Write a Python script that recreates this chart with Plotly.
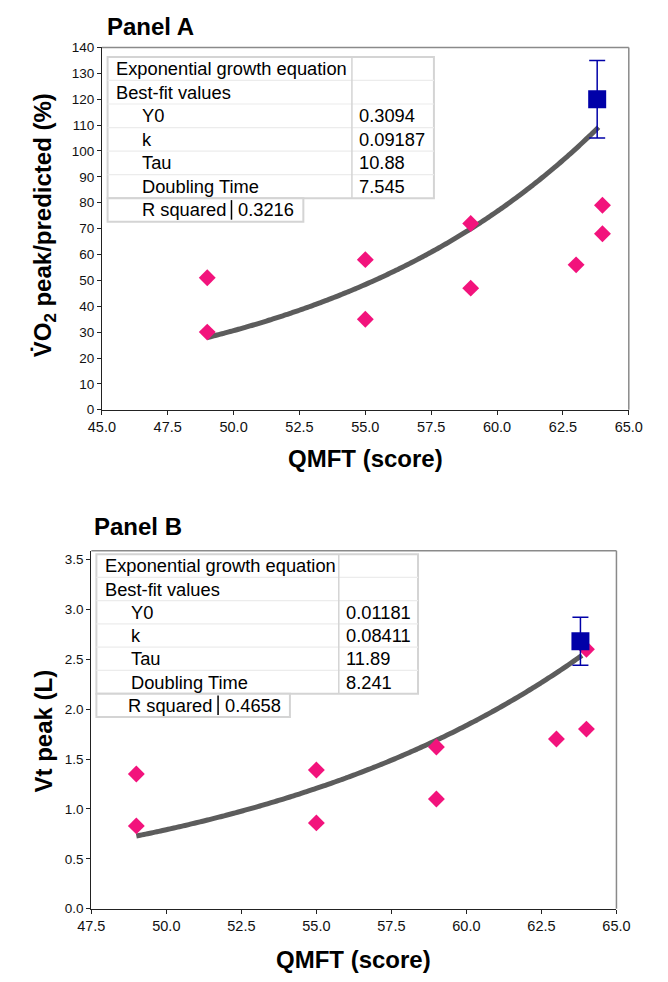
import math
import plotly.graph_objects as go

W, H = 668, 982

# ---------------- data ----------------
qmft_a = [49, 49, 55, 55, 59, 59, 63, 64, 64]
vo2_a = [51, 30, 58, 35, 72, 47, 56, 79, 68]
mean_x_a = [63.8]
mean_y_a = [120]
err_a = [15]
fit_a_y0, fit_a_k = 0.3094, 0.09187
fit_a_range = [49, 63.85]
table_a_labels = ["Exponential growth equation", "Best-fit values", "Y0", "k", "Tau", "Doubling Time"]
table_a_values = ["", "", "0.3094", "0.09187", "10.88", "7.545"]
rsq_a = "0.3216"

qmft_b = [49, 49, 55, 55, 59, 59, 63, 64, 64]
vt_b = [1.35, 0.83, 1.39, 0.86, 1.62, 1.10, 1.70, 1.80, 2.60]
mean_x_b = [63.8]
mean_y_b = [2.68]
err_b = [0.24]
fit_b_y0, fit_b_k = 0.01181, 0.08411
fit_b_range = [49, 63.85]
table_b_labels = ["Exponential growth equation", "Best-fit values", "Y0", "k", "Tau", "Doubling Time"]
table_b_values = ["", "", "0.01181", "0.08411", "11.89", "8.241"]
rsq_b = "0.4658"

ticks_a_y = list(range(0, 141, 10))
ticks_a_x = [45.0, 47.5, 50.0, 52.5, 55.0, 57.5, 60.0, 62.5, 65.0]
ticks_b_y = [0.0, 0.5, 1.0, 1.5, 2.0, 2.5, 3.0, 3.5]
ticks_b_x = [47.5, 50.0, 52.5, 55.0, 57.5, 60.0, 62.5, 65.0]

PINK = "#F2137C"
BLUE = "#0000A8"
FITC = "#5c5c5c"
ARIAL = "Liberation Sans, Arial, Helvetica"
XTICKFONT = dict(family=ARIAL, size=14.5, color="#111")
YTICKFONT = dict(family=ARIAL, size=13.5, color="#111")
TITLEFONT = dict(family=ARIAL, size=24, color="#000")
TABFONT = dict(family=ARIAL, size=18.3, color="#000")


def px(x):
    return x / W


def py(y):
    return 1 - y / H


def fit_curve(y0, k, rng, n=120):
    xs = [rng[0] + (rng[1] - rng[0]) * i / (n - 1) for i in range(n)]
    return xs, [y0 * math.exp(k * x) for x in xs]


# plot area pixel boxes
A = dict(x0=91.7, x1=641.7, y0=41.1, y1=409)
B = dict(x0=80.7, x1=628.8, y0=552.3, y1=915.7)

fig = go.Figure()

for (qx, qy, mx, my, er, y0, k, rng, xa, ya) in [
    (qmft_a, vo2_a, mean_x_a, mean_y_a, err_a, fit_a_y0, fit_a_k, fit_a_range, "x", "y"),
    (qmft_b, vt_b, mean_x_b, mean_y_b, err_b, fit_b_y0, fit_b_k, fit_b_range, "x2", "y2"),
]:
    fx, fy = fit_curve(y0, k, rng)
    fig.add_trace(go.Scatter(x=fx, y=fy, mode="lines", line=dict(color=FITC, width=5, shape="spline"),
                             xaxis=xa, yaxis=ya, showlegend=False, hoverinfo="skip"))
    fig.add_trace(go.Scatter(x=qx, y=qy, mode="markers",
                             marker=dict(symbol="diamond", size=13, color=PINK),
                             xaxis=xa, yaxis=ya, showlegend=False))
    fig.add_trace(go.Scatter(x=mx, y=my, mode="markers",
                             marker=dict(symbol="square", size=18, color=BLUE),
                             error_y=dict(type="data", array=er, color=BLUE, thickness=1.5, width=8),
                             xaxis=xa, yaxis=ya, showlegend=False))

axis_common = dict(showgrid=False, zeroline=False, showline=True, linecolor="#222", linewidth=1,
                   ticks="outside", ticklen=4, tickcolor="#222")

fig.update_layout(
    width=W, height=H, margin=dict(l=0, r=0, t=0, b=0),
    paper_bgcolor="white", plot_bgcolor="white",
    xaxis=dict(domain=[px(A["x0"]), px(A["x1"])], range=[45, 65], tickvals=ticks_a_x,
               tickformat=".1f", anchor="y", tickfont=XTICKFONT, **axis_common),
    yaxis=dict(domain=[py(A["y1"]), py(A["y0"])], range=[0, 140], tickvals=ticks_a_y,
               anchor="x", tickfont=YTICKFONT, **axis_common),
    xaxis2=dict(domain=[px(B["x0"]), px(B["x1"])], range=[47.5, 65], tickvals=ticks_b_x,
                tickformat=".1f", anchor="y2", tickfont=XTICKFONT, **axis_common),
    yaxis2=dict(domain=[py(B["y1"]), py(B["y0"])], range=[0, 3.586], tickvals=ticks_b_y,
                tickformat=".1f", anchor="x2", tickfont=YTICKFONT, **axis_common),
)

shapes = []
annotations = []

# frames (top/right gray)
for P in (A, B):
    shapes.append(dict(type="line", xref="paper", yref="paper", x0=px(P["x0"]), x1=px(P["x1"]),
                       y0=py(P["y0"]), y1=py(P["y0"]), line=dict(color="#8a8a8a", width=1.5)))
    shapes.append(dict(type="line", xref="paper", yref="paper", x0=px(P["x1"]), x1=px(P["x1"]),
                       y0=py(P["y0"]), y1=py(P["y1"]), line=dict(color="#8a8a8a", width=1.5)))


def add_table(left, top, coldiv, right, rowh, labels, values, rsq, rsq_right, rsq_div):
    nrows = len(labels)
    bottom = top + rowh * nrows
    shapes.append(dict(type="rect", xref="paper", yref="paper", x0=px(left), x1=px(right),
                       y0=py(bottom), y1=py(top), line=dict(color="#d4d4d4", width=2),
                       fillcolor="white", layer="above"))
    for i in range(1, nrows):
        yy = top + rowh * i
        shapes.append(dict(type="line", xref="paper", yref="paper", x0=px(left), x1=px(right),
                           y0=py(yy), y1=py(yy), line=dict(color="#ececec", width=1.2), layer="above"))
    shapes.append(dict(type="line", xref="paper", yref="paper", x0=px(coldiv), x1=px(coldiv),
                       y0=py(bottom), y1=py(top), line=dict(color="#d4d4d4", width=1.5), layer="above"))
    for i, (lab, val) in enumerate(zip(labels, values)):
        yc = top + rowh * (i + 0.5)
        indent = 7 if i < 2 else 34
        annotations.append(dict(text=lab, xref="paper", yref="paper", x=px(left + indent), y=py(yc),
                                xanchor="left", yanchor="middle", showarrow=False, font=TABFONT))
        if val:
            annotations.append(dict(text=val, xref="paper", yref="paper", x=px(coldiv + 5), y=py(yc),
                                    xanchor="left", yanchor="middle", showarrow=False, font=TABFONT))
    rtop = bottom
    rbot = bottom + rowh
    shapes.append(dict(type="rect", xref="paper", yref="paper", x0=px(left), x1=px(rsq_right),
                       y0=py(rbot), y1=py(rtop), line=dict(color="#d4d4d4", width=2),
                       fillcolor="white", layer="above"))
    shapes.append(dict(type="line", xref="paper", yref="paper", x0=px(rsq_div), x1=px(rsq_div),
                       y0=py(rbot - 2), y1=py(rtop + 2), line=dict(color="#000", width=1.5), layer="above"))
    yc = (rtop + rbot) / 2
    annotations.append(dict(text="R squared", xref="paper", yref="paper", x=px(rsq_div - 4), y=py(yc),
                            xanchor="right", yanchor="middle", showarrow=False, font=TABFONT))
    annotations.append(dict(text=rsq, xref="paper", yref="paper", x=px(rsq_div + 5), y=py(yc),
                            xanchor="left", yanchor="middle", showarrow=False, font=TABFONT))


add_table(97.7, 50.7, 352.7, 438.3, 23.9, table_a_labels, table_a_values, rsq_a, 302, 227)
add_table(86, 555.7, 339, 421.7, 23.6, table_b_labels, table_b_values, rsq_b, 288, 213)

# panel titles
annotations.append(dict(text="<b>Panel A</b>", xref="paper", yref="paper", x=px(95), y=py(20),
                        xanchor="left", yanchor="middle", showarrow=False, font=TITLEFONT))
annotations.append(dict(text="<b>Panel B</b>", xref="paper", yref="paper", x=px(81), y=py(528),
                        xanchor="left", yanchor="middle", showarrow=False, font=TITLEFONT))
# axis titles
annotations.append(dict(text="<b>QMFT (score)</b>", xref="paper", yref="paper",
                        x=px((A["x0"] + A["x1"]) / 2), y=py(459),
                        xanchor="center", yanchor="middle", showarrow=False, font=TITLEFONT))
annotations.append(dict(text="<b>QMFT (score)</b>", xref="paper", yref="paper",
                        x=px((B["x0"] + B["x1"]) / 2), y=py(967),
                        xanchor="center", yanchor="middle", showarrow=False, font=TITLEFONT))
annotations.append(dict(text="<b>V\u0307O<sub>2</sub> peak/predicted (%)</b>", xref="paper", yref="paper",
                        x=px(32), y=py(222), xanchor="center", yanchor="middle", showarrow=False,
                        textangle=-90, font=TITLEFONT))
annotations.append(dict(text="<b>Vt peak (L)</b>", xref="paper", yref="paper",
                        x=px(31), y=py(735), xanchor="center", yanchor="middle", showarrow=False,
                        textangle=-90, font=TITLEFONT))

fig.update_layout(shapes=shapes, annotations=annotations)
fig.write_html("out.html")
